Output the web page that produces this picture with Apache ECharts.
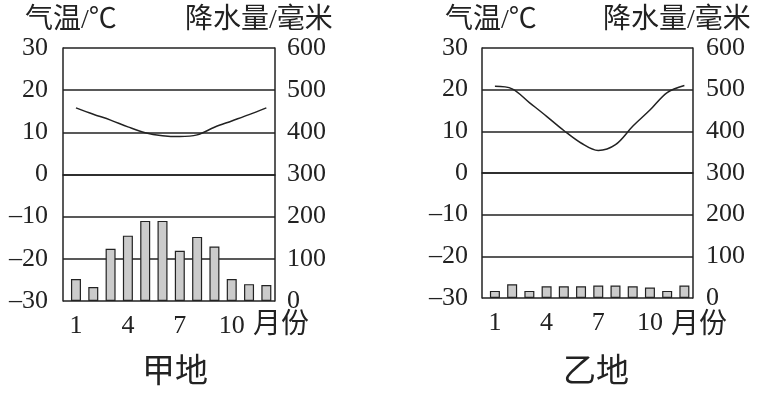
<!DOCTYPE html>
<html><head><meta charset="utf-8">
<script src="https://cdn.jsdelivr.net/npm/echarts@6/dist/echarts.min.js"></script>
<style>html,body{margin:0;padding:0;background:#fff}#c{width:765px;height:393px}</style>
</head><body><div id="c"></div>
<script>
var months = [1,2,3,4,5,6,7,8,9,10,11,12];
var monthTicks = [1,4,7,10];
var jiaTemp = [15.8,14.3,12.9,11.3,9.9,9.2,9.0,9.4,11.2,12.7,14.2,15.8];
var jiaPrecip = [52,33,124,155,190,190,119,152,129,52,40,38];
var yiTemp = [20.8,20.2,16.9,13.6,10.2,7.2,5.4,6.8,11.2,15.1,19.3,21.0];
var yiPrecip = [17,33,17,28,28,28,30,30,28,25,17,30];
var tempTicks = [-30,-20,-10,0,10,20,30];
var precipTicks = [0,100,200,300,400,500,600];

var FONT = '"Liberation Serif", "Noto Sans CJK SC", serif';
function pairs(v){ return months.map(function(m,i){ return [m, v[i]]; }); }
function fmtNum(v){ return String(v).replace('-', '\u2013'); }

function xAxis(gi){
  return {
    type:'value', gridIndex:gi, min:0.25, max:12.5,
    axisLine:{show:true, lineStyle:{color:'#222', width:1.5}},
    axisTick:{show:false}, splitLine:{show:false},
    axisLabel:{customValues:monthTicks, color:'#222', fontSize:26, fontFamily:FONT, margin:12}
  };
}
function yTemp(gi, margin){
  return {
    type:'value', gridIndex:gi, position:'left', min:-30, max:30, interval:10,
    axisLine:{show:true, lineStyle:{color:'#222', width:1.5}},
    axisTick:{show:false},
    splitLine:{show:true, lineStyle:{color:'#222', width:1.5}},
    axisLabel:{color:'#222', fontSize:26, fontFamily:FONT, margin:margin, formatter:fmtNum}
  };
}
function yPrecip(gi, margin){
  return {
    type:'value', gridIndex:gi, position:'right', min:0, max:600, interval:100,
    axisLine:{show:true, lineStyle:{color:'#222', width:1.5}},
    axisTick:{show:false}, splitLine:{show:false},
    axisLabel:{color:'#222', fontSize:26, fontFamily:FONT, margin:margin}
  };
}
function bars(gi, data){
  return {type:'bar', xAxisIndex:gi, yAxisIndex:gi*2+1, data:pairs(data), barWidth:10,
    itemStyle:{color:'#cbcbcb', borderColor:'#222', borderWidth:1.2}, silent:true, z:3};
}
function line(gi, data){
  return {type:'line', xAxisIndex:gi, yAxisIndex:gi*2, data:pairs(data), smooth:0.35, symbol:'none',
    lineStyle:{color:'#222', width:1.5}, silent:true, z:4};
}
function txt(x, y, s, size, align){
  return {type:'text', x:x, y:y, style:{text:s, fontSize:size, fontFamily:FONT, fill:'#222',
    textAlign:align||'left', textVerticalAlign:'middle'}};
}

var chart = echarts.init(document.getElementById('c'), null, {renderer:'canvas'});
chart.setOption({
  backgroundColor:'#fff',
  animation:false,
  grid:[
    {left:63, top:48, width:212, height:253},
    {left:482, top:48, width:211, height:250}
  ],
  xAxis:[xAxis(0), xAxis(1)],
  yAxis:[yTemp(0,15), yPrecip(0,12), yTemp(1,14), yPrecip(1,13)],
  series:[bars(0,jiaPrecip), line(0,jiaTemp), bars(1,yiPrecip), line(1,yiTemp)],
  graphic:[
    txt(25, 21, '气温/℃', 28),
    txt(185, 21, '降水量/毫米', 28),
    txt(445, 21, '气温/℃', 28),
    txt(603, 21, '降水量/毫米', 28),
    txt(253, 326, '月份', 28),
    txt(671, 326, '月份', 28),
    txt(175, 373, '甲地', 33, 'center'),
    txt(596, 373, '乙地', 33, 'center')
  ]
});
</script></body></html>
